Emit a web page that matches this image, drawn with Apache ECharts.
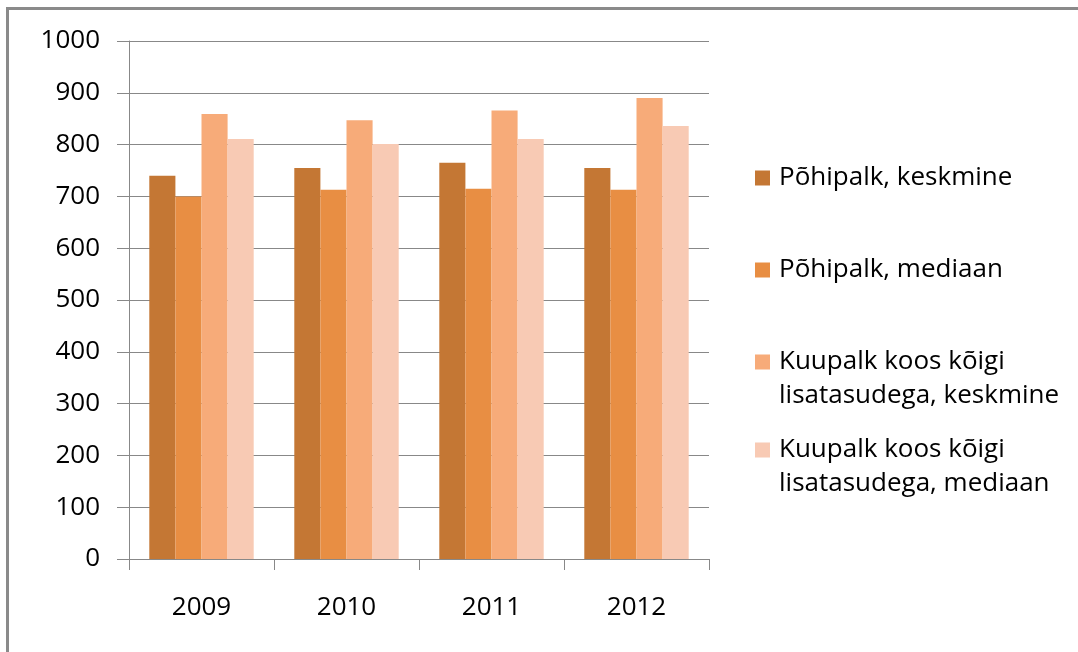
<!DOCTYPE html>
<html>
<head>
<meta charset="utf-8">
<script src="https://cdn.jsdelivr.net/npm/echarts@6/dist/echarts.min.js"></script>
<style>html,body{margin:0;padding:0;background:#fff}#c{width:1078px;height:652px}</style>
</head>
<body>
<div id="c"></div>
<script>
const categories = ['2009', '2010', '2011', '2012'];
const seriesNames = ['Põhipalk, keskmine', 'Põhipalk, mediaan', 'Kuupalk koos kõigi\nlisatasudega, keskmine', 'Kuupalk koos kõigi\nlisatasudega, mediaan'];
const pohiKeskmine = [740, 755, 765, 755];
const pohiMediaan = [700, 713, 715, 713];
const kuuKeskmine = [859, 847, 866, 890];
const kuuMediaan = [811, 801, 811, 836];
const colors = ['#C47734', '#E88E43', '#F7AB79', '#F8CAB4'];
const allData = [pohiKeskmine, pohiMediaan, kuuKeskmine, kuuMediaan];

const font = '"Open Sans", Lato, sans-serif';
const legendTops = [161, 253, 345, 433];
// square marker aligned with the first text line for two-line entries
const topIcon = 'path://M0,0H15V15H0Z M7,48.99h0.01v0.01h-0.01Z';

const chart = echarts.init(document.getElementById('c'), null, {renderer: 'canvas'});
chart.setOption({
  animation: false,
  color: colors,
  graphic: [{
    type: 'rect', left: 5, top: 6, silent: true,
    shape: {x: 0, y: 0, width: 1100, height: 700},
    style: {fill: 'none', stroke: '#8a8a8a', lineWidth: 3}
  }],
  grid: {left: 129, top: 41, width: 580, height: 518, containLabel: false},
  legend: seriesNames.map((n, i) => {
    const multi = n.indexOf('\n') >= 0;
    return {
      data: [n], left: 755, top: legendTops[i], orient: 'vertical', padding: 0,
      icon: multi ? topIcon : 'rect', itemWidth: 15, itemHeight: multi ? 49 : 15, itemGap: 8,
      textStyle: {fontFamily: font, fontSize: 26, color: '#000', lineHeight: 34, padding: [0, 0, 0, 4]},
      selectedMode: false
    };
  }),
  xAxis: {
    type: 'category', data: categories,
    axisLine: {lineStyle: {color: '#888', width: 1}},
    axisTick: {show: true, length: 11, lineStyle: {color: '#888'}},
    axisLabel: {fontFamily: font, fontSize: 26, color: '#000', margin: 36}
  },
  yAxis: {
    type: 'value', min: 0, max: 1000, interval: 100,
    axisLine: {show: true, lineStyle: {color: '#888', width: 1}},
    axisTick: {show: true, length: 12, lineStyle: {color: '#888'}},
    axisLabel: {fontFamily: font, fontSize: 26, color: '#000', margin: 29, formatter: v => String(v)},
    splitLine: {lineStyle: {color: '#888', width: 1}}
  },
  series: seriesNames.map((n, i) => ({
    name: n, type: 'bar', data: allData[i],
    barGap: '0%', barCategoryGap: '28%',
    itemStyle: {color: colors[i]}
  }))
});
</script>
</body>
</html>
